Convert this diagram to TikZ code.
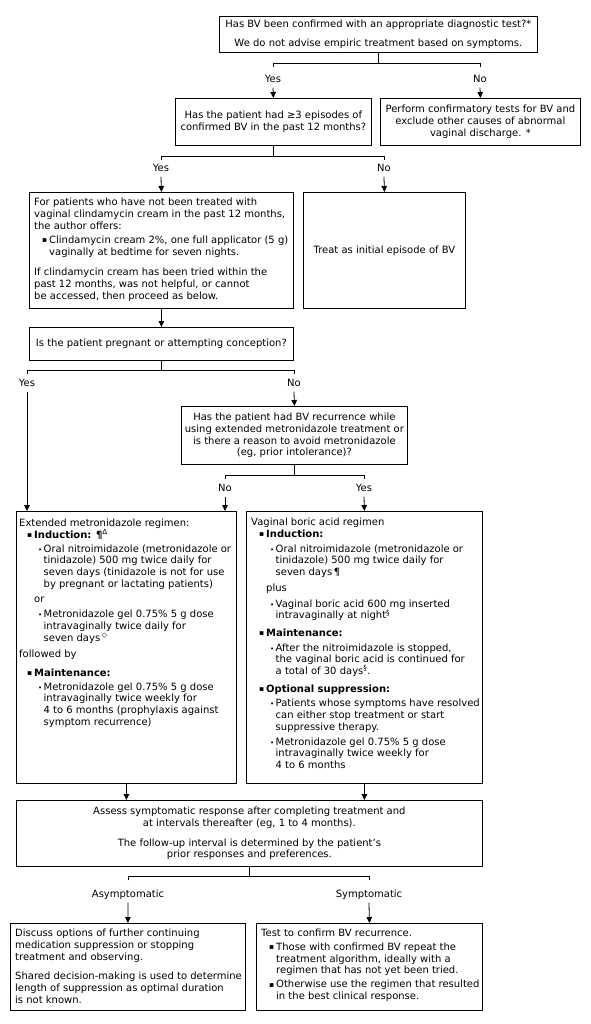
\documentclass[tikz,border=0pt]{standalone}
\usepackage{fontspec}
\usepackage{graphicx}
\setmainfont{DejaVu Sans}
\usetikzlibrary{arrows.meta,calc}
\newcommand{\fs}{\fontsize{10pt}{11.7pt}\selectfont}
\newcommand{\Ia}{\hspace*{8pt}\makebox[7pt][l]{\raisebox{0.6pt}{\scalebox{0.75}{▪}}}}
\newcommand{\Ic}{\hspace*{15pt}}
\newcommand{\IIa}{\hspace*{19pt}\makebox[5.5pt][l]{\scalebox{0.7}{•}}}
\newcommand{\IIc}{\hspace*{24.5pt}}
\begin{document}
\begin{tikzpicture}[x=1pt,y=-1pt,
  ln/.style={line width=0.8pt},
  arr/.style={line width=0.8pt,-{Triangle[length=6pt,width=5.5pt]}},
  frame/.style={draw,line width=0.8pt,anchor=north west,inner sep=0pt},
  cbox/.style={frame,align=center,font=\fs},
  txt/.style={anchor=north west,inner sep=0pt,align=left,font=\fs},
  lab/.style={inner sep=0pt,font=\fs,text height=7pt,text depth=2pt}]
\useasboundingbox[fill=white] (0,0) rectangle (590,1024);

% ---- box 1
\node[cbox,minimum width=318pt,minimum height=36pt] (b1) at (219,16)
  {Has BV been confirmed with an appropriate diagnostic test?*\\[7pt]We do not advise empiric treatment based on symptoms.};
\coordinate (j1) at (378,63); \coordinate (j1l) at (273,63); \coordinate (j1r) at (480,63);
\coordinate (t1l) at (273,67); \coordinate (t1r) at (480,67);
\draw[ln] (b1.south) -- (b1.south |- j1);
\draw[ln] (t1l) -- (j1l) -- (j1r) -- (t1r);
\node[lab] (y1) at (273,80) {Yes};
\node[lab] (n1) at (480,80) {No};

\node[cbox,minimum width=196pt,minimum height=47pt] (b2) at (175,98)
  {Has the patient had ≥3 episodes of\\confirmed BV in the past 12 months?};
\node[cbox,minimum width=200pt,minimum height=47pt] (b3) at (380,98)
  {Perform confirmatory tests for BV and\\exclude other causes of abnormal\\vaginal discharge. *};
\draw[arr] ([yshift=-3pt]y1.south) -- (b2.north);
\draw[arr] ([yshift=-3pt]n1.south) -- (b3.north);

% ---- branch 2
\coordinate (j2) at (273,156); \coordinate (j2l) at (161,156); \coordinate (j2r) at (384,156);
\coordinate (t2l) at (161,160); \coordinate (t2r) at (384,160);
\draw[ln] (b2.south) -- (b2.south |- j2);
\draw[ln] (t2l) -- (j2l) -- (j2r) -- (t2r);
\node[lab] (y2) at (161,169) {Yes};
\node[lab] (n2) at (384,169) {No};

\node[frame,minimum width=264pt,minimum height=116pt] (b4) at (29,192) {};
\node[txt] (b4t) at ([xshift=5pt,yshift=-6pt]b4.north west) {For patients who have not been treated with\\
vaginal clindamycin cream in the past 12 months,\\
the author offers:\\[2.5pt]
\Ia Clindamycin cream 2\%, one full applicator (5 g)\\
\Ic vaginally at bedtime for seven nights.\\[9pt]
If clindamycin cream has been tried within the\\
past 12 months, was not helpful, or cannot\\
be accessed, then proceed as below.};
\node[cbox,minimum width=162pt,minimum height=116pt] (b5) at (303,192) {Treat as initial episode of BV};
\draw[arr] ([yshift=-3pt]y2.south) -- (b4.north);
\draw[arr] ([yshift=-3pt]n2.south) -- (b5.north);

% ---- box 6
\node[cbox,minimum width=264pt,minimum height=33pt] (b6) at (29,327) {Is the patient pregnant or attempting conception?};
\draw[arr] (b4.south) -- (b6.north);
\coordinate (j3) at (161,370); \coordinate (j3l) at (27,370); \coordinate (j3r) at (294,370);
\coordinate (t3l) at (27,374); \coordinate (t3r) at (294,374);
\draw[ln] (b6.south) -- (b6.south |- j3);
\draw[ln] (t3l) -- (j3l) -- (j3r) -- (t3r);
\node[lab] (y3) at (27,384) {Yes};
\node[lab] (n3) at (294,384) {No};

% ---- box 7
\node[cbox,minimum width=226pt,minimum height=58pt] (b7) at (181,406)
  {Has the patient had BV recurrence while\\using extended metronidazole treatment or\\is there a reason to avoid metronidazole\\(eg, prior intolerance)?};
\draw[arr] ([yshift=-3pt]n3.south) -- (b7.north);
\coordinate (j4) at (294,475); \coordinate (j4l) at (225,475); \coordinate (j4r) at (364,475);
\coordinate (t4l) at (225,479); \coordinate (t4r) at (364,479);
\draw[ln] (b7.south) -- (b7.south |- j4);
\draw[ln] (t4l) -- (j4l) -- (j4r) -- (t4r);
\node[lab] (n4) at (225,489) {No};
\node[lab] (y4) at (364,489) {Yes};

% ---- box 8
\node[frame,minimum width=220pt,minimum height=272pt] (b8) at (16,511) {};
\node[txt] (b8t) at ([xshift=3pt,yshift=-8pt]b8.north west) {Extended metronidazole regimen:\\
\Ia\textbf{Induction: ¶}\textsuperscript{Δ}\\[2pt]
\IIa Oral nitroimidazole (metronidazole or\\
\IIc tinidazole) 500 mg twice daily for\\
\IIc seven days (tinidazole is not for use\\
\IIc by pregnant or lactating patients)\\[3pt]
\Ic or\\[4pt]
\IIa Metronidazole gel 0.75\% 5 g dose\\
\IIc intravaginally twice daily for\\
\IIc seven days\,\textsuperscript{◇}\\[5pt]
followed by\\[7pt]
\Ia\textbf{Maintenance:}\\[2pt]
\IIa Metronidazole gel 0.75\% 5 g dose\\
\IIc intravaginally twice weekly for\\
\IIc 4 to 6 months (prophylaxis against\\
\IIc symptom recurrence)};
\draw[arr] ([yshift=-3pt]y3.south) -- (y3 |- b8.north);
\draw[arr] ([yshift=-3pt]n4.south) -- (n4 |- b8.north);

% ---- box 9
\node[frame,minimum width=236pt,minimum height=272pt] (b9) at (246,511) {};
\node[txt] (b9t) at ([xshift=5pt,yshift=-7pt]b9.north west) {Vaginal boric acid regimen\\
\Ia\textbf{Induction:}\\[3pt]
\IIa Oral nitroimidazole (metronidazole or\\
\IIc tinidazole) 500 mg twice daily for\\
\IIc seven days\,¶\\[4pt]
\Ic plus\\[4pt]
\IIa Vaginal boric acid 600 mg inserted\\
\IIc intravaginally at night\textsuperscript{§}\\[6pt]
\Ia\textbf{Maintenance:}\\[3pt]
\IIa After the nitroimidazole is stopped,\\
\IIc the vaginal boric acid is continued for\\
\IIc a total of 30 days\textsuperscript{§}.\\[6pt]
\Ia\textbf{Optional suppression:}\\[3pt]
\IIa Patients whose symptoms have resolved\\
\IIc can either stop treatment or start\\
\IIc suppressive therapy.\\[3pt]
\IIa Metronidazole gel 0.75\% 5 g dose\\
\IIc intravaginally twice weekly for\\
\IIc 4 to 6 months};
\draw[arr] ([yshift=-3pt]y4.south) -- (b9.north);

% ---- box 10
\node[cbox,minimum width=466pt,minimum height=66pt] (b10) at (16,800)
  {Assess symptomatic response after completing treatment and\\at intervals thereafter (eg, 1 to 4 months).\\[8pt]The follow-up interval is determined by the patient's\\prior responses and preferences.};
\draw[arr] (b8.south) -- (b8.south |- b10.north);
\draw[arr] (b9.south) -- (b9.south |- b10.north);
\coordinate (j5) at (249,876); \coordinate (j5l) at (128,876); \coordinate (j5r) at (369,876);
\coordinate (t5l) at (128,880); \coordinate (t5r) at (369,880);
\draw[ln] (b10.south) -- (b10.south |- j5);
\draw[ln] (t5l) -- (j5l) -- (j5r) -- (t5r);
\node[lab] (a5) at (128,895) {Asymptomatic};
\node[lab] (s5) at (369,895) {Symptomatic};

% ---- boxes 11, 12
\node[frame,minimum width=235pt,minimum height=87pt] (b11) at (10,923) {};
\node[txt] (b11t) at ([xshift=5pt,yshift=-6pt]b11.north west) {Discuss options of further continuing\\
medication suppression or stopping\\
treatment and observing.\\[8pt]
Shared decision-making is used to determine\\
length of suppression as optimal duration\\
is not known.};
\node[frame,minimum width=226pt,minimum height=87pt] (b12) at (256,923) {};
\node[txt] (b12t) at ([xshift=5pt,yshift=-6pt]b12.north west) {Test to confirm BV recurrence.\\[2pt]
\Ia Those with confirmed BV repeat the\\
\Ic treatment algorithm, ideally with a\\
\Ic regimen that has not yet been tried.\\[2pt]
\Ia Otherwise use the regimen that resulted\\
\Ic in the best clinical response.};
\draw[arr] ([yshift=-3pt]a5.south) -- (b11.north);
\draw[arr] ([yshift=-3pt]s5.south) -- (b12.north);
\end{tikzpicture}
\end{document}
